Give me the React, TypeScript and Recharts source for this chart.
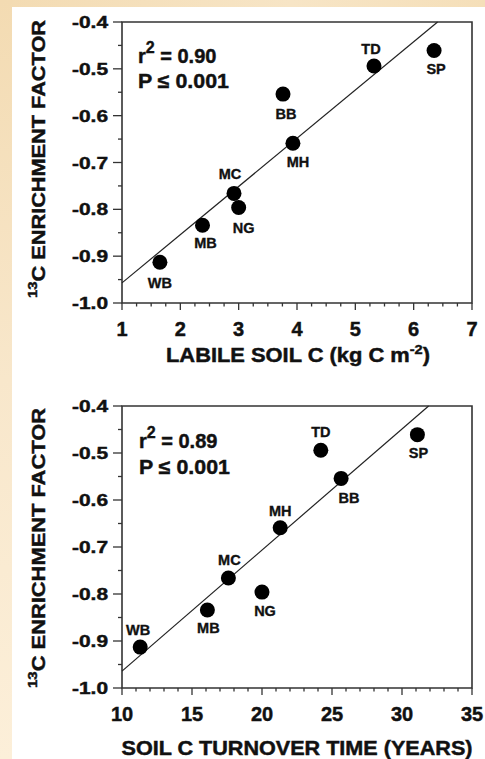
import {
  ComposedChart,
  Scatter,
  XAxis,
  YAxis,
  ReferenceLine,
  ReferenceArea,
} from "recharts";

const sites = ["WB", "MB", "MC", "NG", "BB", "MH", "TD", "SP"];
const labileSoilC = [1.65, 2.38, 2.92, 3.0, 3.76, 3.93, 5.32, 6.35];
const turnoverYears = [11.3, 16.1, 17.6, 20.0, 25.65, 21.3, 24.2, 31.1];
const enrichmentFactor = [-0.913, -0.834, -0.766, -0.796, -0.554, -0.659, -0.494, -0.461];

// fitted regression lines (end points)
const labileFitX = [1, 6.41];
const labileFitY = [-0.957, -0.4];
const turnoverFitX = [10, 31.9];
const turnoverFitY = [-0.964, -0.4];

// stats
const labileR2 = "0.90";
const turnoverR2 = "0.89";
const pValue = "0.001";

// axis ticks
const labileTicks = [1, 2, 3, 4, 5, 6, 7];
const turnoverTicks = [10, 15, 20, 25, 30, 35];
const enrichmentTicks = [-1.0, -0.9, -0.8, -0.7, -0.6, -0.5, -0.4];

const FONT = "'Liberation Sans', Arial, Helvetica, sans-serif";
const AXIS = "#333";
const INK = "#111";
const HEAVY = { stroke: INK, strokeWidth: 0.45 };

// label offsets (dx, dy) relative to each dot
const topLabelOffsets: Record<string, [number, number]> = {
  WB: [0, 21],
  MB: [3, 18],
  MC: [-4, -19],
  NG: [5, 21],
  BB: [3, 20],
  MH: [5, 19],
  TD: [-3, -17],
  SP: [2, 18],
};
const bottomLabelOffsets: Record<string, [number, number]> = {
  WB: [-2, -17],
  MB: [1, 18],
  MC: [1, -18],
  NG: [3, 19],
  BB: [8, 20],
  MH: [0, -17],
  TD: [0, -18],
  SP: [1, 18],
};

const labileData = sites.map((s, i) => ({ site: s, x: labileSoilC[i], y: enrichmentFactor[i] }));
const turnoverData = sites.map((s, i) => ({ site: s, x: turnoverYears[i], y: enrichmentFactor[i] }));

// minor ticks between the majors
function subdivide(majors: number[], parts: number) {
  const out: number[] = [];
  for (let i = 0; i < majors.length - 1; i++) {
    const a = majors[i];
    const b = majors[i + 1];
    for (let k = 0; k < parts; k++) out.push(Math.round((a + ((b - a) * k) / parts) * 1000) / 1000);
  }
  out.push(majors[majors.length - 1]);
  return out;
}

const isMajor = (v: number, majors: number[]) => majors.some((m) => Math.abs(m - v) < 1e-6);

const makeXTick = (majors: number[]) => (props: any) => {
  const { x, y, payload } = props;
  const v = payload.value;
  const major = isMajor(v, majors);
  return (
    <g>
      <line x1={x} x2={x} y1={y} y2={y + (major ? 7 : 3.5)} stroke={AXIS} strokeWidth={1.3} />
      {major && (
        <text x={x} y={y + 33} textAnchor="middle" fontFamily={FONT} fontWeight="bold" fontSize={20} fill={INK} {...HEAVY}>
          {v}
        </text>
      )}
    </g>
  );
};

const YTick = (props: any) => {
  const { x, y, payload } = props;
  const v = payload.value;
  const major = isMajor(v, enrichmentTicks);
  return (
    <g>
      <line x1={x} x2={x - (major ? 9 : 4)} y1={y} y2={y} stroke={AXIS} strokeWidth={1.3} />
      {major && (
        <text
          x={x - 14}
          y={y + 6}
          textAnchor="end"
          fontFamily={FONT}
          fontWeight="bold"
          fontSize={16.5}
          fill={INK}
          {...HEAVY}
          textLength={36}
          lengthAdjust="spacingAndGlyphs"
        >
          {v.toFixed(1)}
        </text>
      )}
    </g>
  );
};

const makeDot = (offsets: Record<string, [number, number]>) => (props: any) => {
  const { cx, cy, payload } = props;
  const [dx, dy] = offsets[payload.site] || [0, 18];
  return (
    <g>
      <circle cx={cx} cy={cy} r={7.5} fill="#000" />
      <text x={cx + dx} y={cy + dy + 5} textAnchor="middle" fontFamily={FONT} fontWeight="bold" fontSize={14.5} fill={INK} stroke={INK} strokeWidth={0.35}>
        {payload.site}
      </text>
    </g>
  );
};

function Panel({
  data,
  xMajors,
  minorParts,
  fitX,
  fitY,
  offsets,
  marginTop,
  xAxisHeight,
  height,
}: any) {
  const xTicks = subdivide(xMajors, minorParts);
  const yTicks = subdivide(enrichmentTicks, 2);
  const xMin = xMajors[0];
  const xMax = xMajors[xMajors.length - 1];
  return (
    <ComposedChart width={485} height={height} margin={{ top: marginTop, right: 13, bottom: 0, left: 0 }}>
      <XAxis
        type="number"
        dataKey="x"
        domain={[xMin, xMax]}
        ticks={xTicks}
        interval={0}
        allowDataOverflow
        axisLine={false}
        tickLine={false}
        tickSize={0}
        tickMargin={0}
        height={xAxisHeight}
        tick={makeXTick(xMajors)}
      />
      <YAxis
        type="number"
        dataKey="y"
        domain={[-1, -0.4]}
        ticks={yTicks}
        interval={0}
        allowDataOverflow
        axisLine={false}
        tickLine={false}
        tickSize={0}
        tickMargin={0}
        width={122}
        tick={YTick}
      />
      <ReferenceArea
        x1={xMin}
        x2={xMax}
        y1={-1}
        y2={-0.4}
        fill="none"
        fillOpacity={0}
        stroke={AXIS}
        strokeWidth={1.6}
      />
      <ReferenceLine
        segment={[
          { x: fitX[0], y: fitY[0] },
          { x: fitX[1], y: fitY[1] },
        ]}
        stroke="#222"
        strokeWidth={1.2}
      />
      <Scatter data={data} isAnimationActive={false} shape={makeDot(offsets)} />
    </ComposedChart>
  );
}

const titleStyle = { fontFamily: FONT, fontWeight: "bold" as const, fill: INK, ...HEAVY };

export default function App() {
  return (
    <div
      style={{
        position: "absolute",
        left: 0,
        top: 0,
        width: 485,
        height: 759,
        background: "#fff",
        overflow: "hidden",
      }}
    >
      <div
        style={{
          position: "absolute",
          left: 0,
          top: 0,
          width: 485,
          height: 7,
          background: "linear-gradient(90deg, #f3dbb2, #f7e5c6 60%, #f5dfb9)",
        }}
      />
      <div
        style={{
          position: "absolute",
          left: 0,
          top: 0,
          width: 12,
          height: 759,
          background: "linear-gradient(180deg, #f3dbb2, #f8e7cb 50%, #fcefd9)",
        }}
      />
      <div style={{ position: "absolute", left: 0, top: 0 }}>
        <Panel
          data={labileData}
          xMajors={labileTicks}
          minorParts={4}
          fitX={labileFitX}
          fitY={labileFitY}
          offsets={topLabelOffsets}
          marginTop={22}
          xAxisHeight={77}
          height={380}
        />
      </div>
      <div style={{ position: "absolute", left: 0, top: 380 }}>
        <Panel
          data={turnoverData}
          xMajors={turnoverTicks}
          minorParts={5}
          fitX={turnoverFitX}
          fitY={turnoverFitY}
          offsets={bottomLabelOffsets}
          marginTop={26}
          xAxisHeight={71}
          height={379}
        />
      </div>
      <svg
        width={485}
        height={759}
        style={{ position: "absolute", left: 0, top: 0, pointerEvents: "none" }}
      >
        {/* top panel titles */}
        <text transform="translate(45,159) rotate(-90)" textAnchor="middle" fontSize={19} textLength={278} lengthAdjust="spacingAndGlyphs" {...titleStyle}>
          <tspan fontSize={13} dy={-8}>13</tspan>
          <tspan dy={8}>C ENRICHMENT FACTOR</tspan>
        </text>
        <text x={298} y={361.5} textAnchor="middle" fontSize={19.5} textLength={264} lengthAdjust="spacingAndGlyphs" {...titleStyle}>
          LABILE SOIL C (kg C m<tspan fontSize={13} dy={-8}>-2</tspan>
          <tspan dy={8}>)</tspan>
        </text>
        <text x={138} y={63} fontSize={20} {...titleStyle}>
          r<tspan fontSize={16} dy={-10}>2</tspan>
          <tspan dy={10}> = {labileR2}</tspan>
        </text>
        <text x={138} y={88} fontSize={20} textLength={91} lengthAdjust="spacingAndGlyphs" {...titleStyle}>
          P ≤ {pValue}
        </text>

        {/* bottom panel titles */}
        <text transform="translate(45,548) rotate(-90)" textAnchor="middle" fontSize={19} textLength={280} lengthAdjust="spacingAndGlyphs" {...titleStyle}>
          <tspan fontSize={13} dy={-8}>13</tspan>
          <tspan dy={8}>C ENRICHMENT FACTOR</tspan>
        </text>
        <text x={297} y={755} textAnchor="middle" fontSize={19.5} textLength={351} lengthAdjust="spacingAndGlyphs" {...titleStyle}>
          SOIL C TURNOVER TIME (YEARS)
        </text>
        <text x={139} y={448} fontSize={20} {...titleStyle}>
          r<tspan fontSize={16} dy={-10}>2</tspan>
          <tspan dy={10}> = {turnoverR2}</tspan>
        </text>
        <text x={139} y={474} fontSize={20} textLength={91} lengthAdjust="spacingAndGlyphs" {...titleStyle}>
          P ≤ {pValue}
        </text>
      </svg>
    </div>
  );
}
